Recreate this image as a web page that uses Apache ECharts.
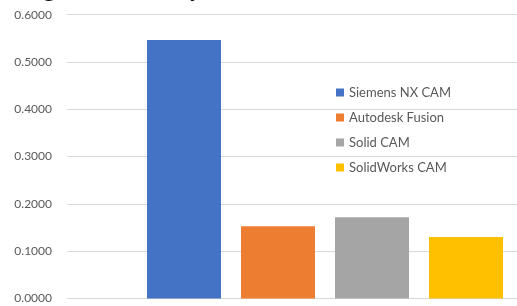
<!DOCTYPE html>
<html><head><meta charset="utf-8">
<script src="https://cdn.jsdelivr.net/npm/echarts@6/dist/echarts.min.js"></script>
<style>html,body{margin:0;padding:0;background:#fff}#c{width:517px;height:306px}</style>
</head><body><div id="c"></div>
<script>
const categories = ['Weight'];
const seriesNames = ['Siemens NX CAM', 'Autodesk Fusion', 'Solid CAM', 'SolidWorks CAM'];
const seriesValues = [[0.5465], [0.153], [0.172], [0.130]];
const seriesColors = ['#4472C4', '#ED7D31', '#A5A5A5', '#FFC000'];
const titleText = 'Weights of the analyzed software variants';

const chart = echarts.init(document.getElementById('c'), null, {renderer: 'canvas'});
chart.setOption({
  animation: false,
  title: {
    text: titleText, left: 0, top: -27,
    textStyle: {fontFamily: 'Liberation Serif', fontSize: 24, fontWeight: 'normal', color: '#000'}
  },
  legend: {
    orient: 'vertical', left: 336, top: 86, padding: 0, itemWidth: 8, itemHeight: 8, itemGap: 12,
    icon: 'rect',
    textStyle: {fontFamily: 'Lato', fontSize: 13, color: '#595959'},
    data: seriesNames
  },
  grid: {left: 67, top: 14.7, width: 516, bottom: 306 - 298.5, containLabel: false, outerBoundsMode: 'none'},
  xAxis: {
    type: 'category', data: categories,
    axisLine: {show: true, lineStyle: {color: '#d9d9d9'}}, axisTick: {show: false}, axisLabel: {show: false}
  },
  yAxis: {
    type: 'value', min: 0, max: 0.6, interval: 0.1,
    axisLine: {show: false}, axisTick: {show: false},
    axisLabel: {formatter: v => v.toFixed(4), fontFamily: 'Lato', fontSize: 12, color: '#595959', margin: 15},
    splitLine: {lineStyle: {color: '#d9d9d9', width: 1}}
  },
  series: seriesNames.map((n, i) => ({
    name: n, type: 'bar', data: seriesValues[i],
    itemStyle: {color: seriesColors[i]},
    barGap: '27%', barCategoryGap: '31%'
  }))
});
</script></body></html>
